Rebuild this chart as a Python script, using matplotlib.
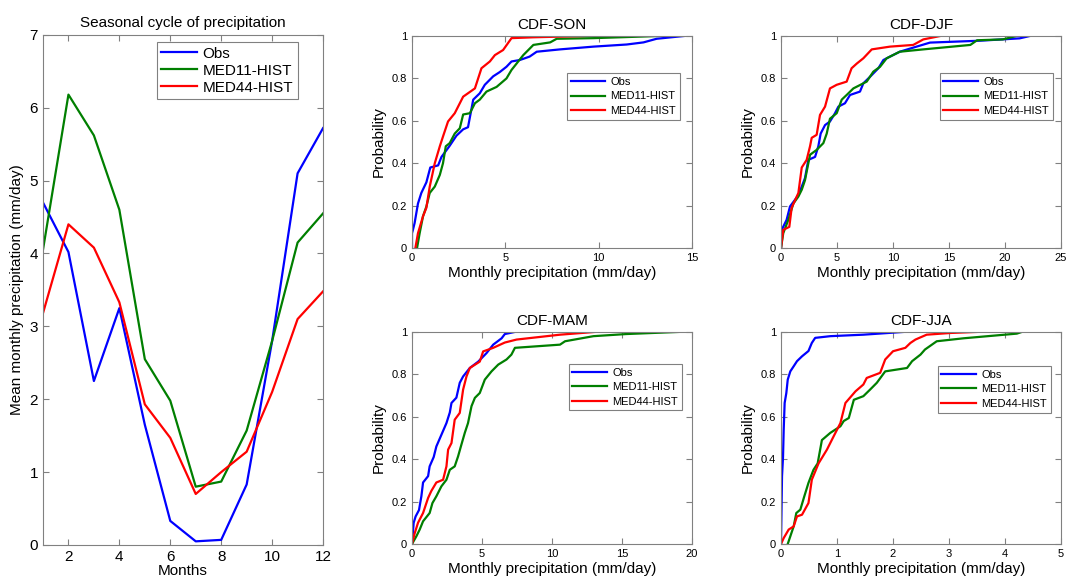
import matplotlib
matplotlib.use('Agg')
import matplotlib.pyplot as plt

plt.rcParams['font.family'] = ['Liberation Sans', 'DejaVu Sans']

# Seasonal cycle (mm/day)
months = [1, 2, 3, 4, 5, 6, 7, 8, 9, 10, 11, 12]
obs_cycle = [4.70, 4.02, 2.25, 3.25, 1.65, 0.33, 0.05, 0.07, 0.83, 2.80, 5.10, 5.72]
med11_cycle = [4.05, 6.18, 5.62, 4.60, 2.55, 1.98, 0.80, 0.87, 1.57, 2.80, 4.15, 4.55]
med44_cycle = [3.18, 4.40, 4.08, 3.33, 1.93, 1.47, 0.70, 1.00, 1.28, 2.10, 3.10, 3.48]

# CDF curves: precipitation (x) and probability (p)
son_obs_x = [0, 0, 0.05, 0.14, 0.32, 0.5, 0.77, 0.98, 1.4, 1.58, 2.0, 2.38, 2.74, 3.0, 3.28, 3.63, 3.9,
             4.35, 4.7, 5.06, 5.33, 5.78, 6.3, 6.68, 7.93, 9.72, 11.5, 12.4, 13.1, 14.55]
son_obs_p = [0, 0.07, 0.086, 0.118, 0.21, 0.26, 0.31, 0.38, 0.39, 0.43, 0.48, 0.53, 0.56, 0.57, 0.70, 0.73,
             0.77, 0.81, 0.83, 0.855, 0.88, 0.887, 0.903, 0.926, 0.937, 0.95, 0.96, 0.97, 0.987, 1.0]
son_m11_x = [0.27, 0.41, 0.59, 0.77, 0.95, 1.22, 1.49, 1.66, 1.81, 2.02, 2.29, 2.56, 2.74, 3.1, 3.37, 3.63,
             3.99, 4.53, 5.06, 5.33, 5.6, 5.96, 6.5, 7.4, 7.75, 9.72, 13.2]
son_m11_p = [0, 0.07, 0.15, 0.196, 0.26, 0.29, 0.345, 0.40, 0.48, 0.495, 0.54, 0.565, 0.63, 0.636, 0.683,
             0.70, 0.738, 0.76, 0.80, 0.84, 0.87, 0.91, 0.958, 0.97, 0.987, 0.99, 1.0]
son_m44_x = [0.18, 0.32, 0.59, 0.77, 0.95, 1.22, 1.49, 1.66, 1.93, 2.29, 2.74, 3.37, 3.72, 4.17, 4.44,
             4.88, 5.33, 6.5, 9.2]
son_m44_p = [0, 0.07, 0.15, 0.19, 0.29, 0.40, 0.48, 0.526, 0.597, 0.636, 0.714, 0.753, 0.848, 0.88, 0.91,
             0.934, 0.99, 0.994, 1.0]

djf_obs_x = [0, 0.06, 0.5, 0.8, 1.25, 1.55, 1.85, 2.14, 2.44, 3.04, 3.33, 3.54, 3.93, 4.37, 4.82, 5.12,
             5.71, 6.16, 7.05, 7.35, 7.95, 8.69, 9.14, 9.73, 10.6, 12.1, 13.3, 17.8, 21.3, 22.2]
djf_obs_p = [0, 0.086, 0.133, 0.196, 0.228, 0.25, 0.29, 0.33, 0.416, 0.43, 0.48, 0.54, 0.58, 0.597, 0.636,
             0.667, 0.683, 0.722, 0.738, 0.777, 0.808, 0.848, 0.887, 0.903, 0.926, 0.95, 0.969, 0.978,
             0.989, 1.0]
djf_m11_x = [0, 0.2, 0.65, 1.1, 1.55, 1.85, 2.14, 2.59, 3.18, 3.78, 4.08, 4.37, 4.97, 5.42, 5.86, 6.46,
             7.65, 8.24, 8.84, 9.43, 10.6, 12.7, 16.9, 17.5, 19.8, 21.0]
djf_m11_p = [0, 0.07, 0.133, 0.21, 0.243, 0.275, 0.32, 0.44, 0.463, 0.495, 0.54, 0.61, 0.636, 0.70, 0.722,
             0.753, 0.785, 0.832, 0.855, 0.895, 0.926, 0.937, 0.958, 0.98, 0.984, 1.0]
djf_m44_x = [0, 0.2, 0.74, 0.95, 1.55, 1.85, 2.29, 2.59, 2.74, 3.18, 3.48, 3.93, 4.37, 4.97, 5.86, 6.3,
             6.76, 7.35, 8.1, 9.73, 11.8, 12.7, 14.2]
djf_m44_p = [0, 0.086, 0.10, 0.19, 0.26, 0.38, 0.416, 0.48, 0.52, 0.534, 0.628, 0.667, 0.753, 0.77, 0.785,
             0.848, 0.87, 0.895, 0.937, 0.95, 0.958, 0.984, 1.0]

mam_obs_x = [0, 0.12, 0.26, 0.5, 0.67, 0.79, 1.15, 1.26, 1.55, 1.74, 2.1, 2.46, 2.7, 2.82, 3.17, 3.41,
             3.65, 4.13, 4.73, 5.32, 5.8, 6.4, 6.63, 7.35]
mam_obs_p = [0, 0.10, 0.13, 0.16, 0.225, 0.29, 0.32, 0.366, 0.41, 0.46, 0.515, 0.57, 0.62, 0.665, 0.69,
             0.76, 0.79, 0.83, 0.86, 0.90, 0.94, 0.97, 0.99, 1.0]
mam_m11_x = [0, 0.31, 0.55, 0.79, 1.26, 1.46, 1.74, 2.1, 2.46, 2.7, 3.05, 3.29, 3.53, 3.77, 4.0, 4.25,
             4.49, 4.84, 5.2, 5.68, 6.16, 6.75, 7.1, 7.35, 10.57, 10.93, 12.96, 15.3, 19.05]
mam_m11_p = [0, 0.036, 0.068, 0.107, 0.146, 0.193, 0.225, 0.272, 0.303, 0.35, 0.366, 0.413, 0.469, 0.524,
             0.57, 0.65, 0.689, 0.712, 0.775, 0.814, 0.846, 0.87, 0.893, 0.925, 0.94, 0.956, 0.98, 0.99, 1.0]
mam_m44_x = [0, 0.19, 0.43, 0.79, 1.15, 1.38, 1.74, 2.22, 2.46, 2.58, 2.82, 3.05, 3.41, 3.65, 3.89, 4.13,
             4.84, 5.08, 5.8, 6.63, 7.47, 10.57, 13.08]
mam_m44_p = [0, 0.05, 0.10, 0.146, 0.217, 0.25, 0.29, 0.303, 0.366, 0.445, 0.476, 0.586, 0.618, 0.728,
             0.79, 0.83, 0.86, 0.908, 0.925, 0.95, 0.964, 0.987, 1.0]

jja_obs_x = [0, 0.018, 0.036, 0.048, 0.065, 0.095, 0.12, 0.166, 0.226, 0.285, 0.375, 0.49, 0.55, 0.61,
             0.88, 1.47, 2.19]
jja_obs_p = [0, 0.32, 0.41, 0.54, 0.665, 0.712, 0.775, 0.814, 0.838, 0.862, 0.885, 0.91, 0.948, 0.972,
             0.98, 0.987, 1.0]
jja_m11_x = [0.12, 0.166, 0.226, 0.273, 0.345, 0.416, 0.49, 0.58, 0.654, 0.73, 0.88, 1.06, 1.12, 1.21,
             1.3, 1.47, 1.59, 1.71, 1.86, 2.25, 2.34, 2.49, 2.57, 2.78, 3.26, 4.21, 4.3]
jja_m11_p = [0, 0.036, 0.083, 0.146, 0.162, 0.225, 0.288, 0.35, 0.38, 0.49, 0.524, 0.555, 0.58, 0.594,
             0.68, 0.697, 0.728, 0.76, 0.814, 0.83, 0.862, 0.893, 0.917, 0.956, 0.97, 0.992, 1.0]
jja_m44_x = [0, 0.048, 0.137, 0.226, 0.285, 0.375, 0.49, 0.55, 0.67, 0.82, 0.94, 1.06, 1.15, 1.33, 1.47,
             1.53, 1.77, 1.86, 2.0, 2.22, 2.31, 2.4, 2.6, 3.02, 3.5]
jja_m44_p = [0, 0.028, 0.068, 0.083, 0.13, 0.138, 0.193, 0.303, 0.38, 0.445, 0.508, 0.57, 0.665, 0.72,
             0.752, 0.783, 0.807, 0.87, 0.909, 0.925, 0.948, 0.964, 0.987, 0.995, 1.0]

names = ['Obs', 'MED11-HIST', 'MED44-HIST']
colors = ['#0000ff', '#007f00', '#ff0000']
frame = '#808080'


def style_axes(ax, fs):
    for s in ax.spines.values():
        s.set_color(frame)
        s.set_linewidth(0.8)
    ax.tick_params(direction='in', top=True, right=True, color=frame, labelcolor='black',
                   labelsize=fs, length=4, width=0.8)


fig = plt.figure(figsize=(10.69, 5.81), dpi=100)

# seasonal cycle
ax = fig.add_axes([0.0402, 0.062, 0.262, 0.878])
for vals, nm, c in zip([obs_cycle, med11_cycle, med44_cycle], names, colors):
    ax.plot(months, vals, color=c, lw=1.6, label=nm)
ax.set_xlim(1, 12)
ax.set_ylim(0, 7)
ax.set_xticks([2, 4, 6, 8, 10, 12])
ax.set_yticks(range(0, 8))
style_axes(ax, 11)
ax.set_xlabel('Months', fontsize=11, labelpad=0)
ax.set_ylabel('Mean monthly precipitation (mm/day)', fontsize=11, labelpad=4)
ax.set_title('Seasonal cycle of precipitation', fontsize=11, pad=6)
leg = ax.legend(loc='upper right', bbox_to_anchor=(0.91, 0.986), fontsize=11, handlelength=2.3,
                borderaxespad=0, fancybox=False, framealpha=1, borderpad=0.3, labelspacing=0.2,
                handletextpad=0.4)
leg.get_frame().set_edgecolor(frame)
leg.get_frame().set_linewidth(0.8)

panels = [
    ('CDF-SON', [0.3854, 0.573], 15, [0, 5, 10, 15], (0.957, 0.825),
     [(son_obs_x, son_obs_p), (son_m11_x, son_m11_p), (son_m44_x, son_m44_p)]),
    ('CDF-DJF', [0.7306, 0.573], 25, [0, 5, 10, 15, 20, 25], (0.971, 0.825),
     [(djf_obs_x, djf_obs_p), (djf_m11_x, djf_m11_p), (djf_m44_x, djf_m44_p)]),
    ('CDF-MAM', [0.3854, 0.0637], 20, [0, 5, 10, 15, 20], (0.964, 0.85),
     [(mam_obs_x, mam_obs_p), (mam_m11_x, mam_m11_p), (mam_m44_x, mam_m44_p)]),
    ('CDF-JJA', [0.7306, 0.0637], 5, [0, 1, 2, 3, 4, 5], (0.964, 0.84),
     [(jja_obs_x, jja_obs_p), (jja_m11_x, jja_m11_p), (jja_m44_x, jja_m44_p)]),
]

for title, pos, xmax, xt, lpos, curves in panels:
    ax = fig.add_axes([pos[0], pos[1], 0.262, 0.365])
    for (xs, ps), nm, c in zip(curves, names, colors):
        ax.plot(xs, ps, color=c, lw=1.6, label=nm)
    ax.set_xlim(0, xmax)
    ax.set_ylim(0, 1)
    ax.set_xticks(xt)
    ax.set_yticks([0, 0.2, 0.4, 0.6, 0.8, 1])
    ax.set_yticklabels(['0', '0.2', '0.4', '0.6', '0.8', '1'])
    style_axes(ax, 8)
    ax.set_xlabel('Monthly precipitation (mm/day)', fontsize=11, labelpad=2)
    ax.set_ylabel('Probability', fontsize=11, labelpad=4)
    ax.set_title(title, fontsize=11, pad=5)
    leg = ax.legend(loc='upper right', bbox_to_anchor=lpos, fontsize=8, handlelength=3.1,
                    borderaxespad=0, fancybox=False, framealpha=1, borderpad=0.35, labelspacing=0.4,
                    handletextpad=0.5)
    leg.get_frame().set_edgecolor(frame)
    leg.get_frame().set_linewidth(0.8)

fig.savefig('out.png', dpi=100)
